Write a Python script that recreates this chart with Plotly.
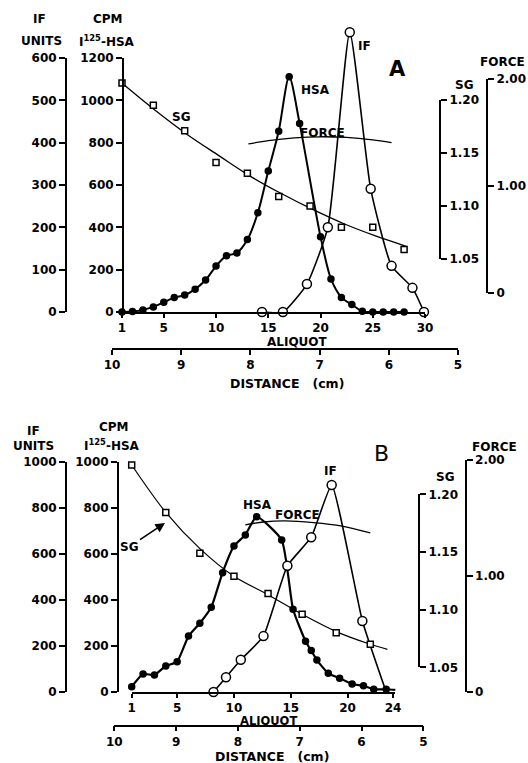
import plotly.graph_objects as go

W, H = 528, 763


def X(px):
    return px / W


def Y(py):
    return 1 - py / H


# ---------------- Panel A data ----------------
a_hsa_aliquot = [1, 2, 3, 4, 5, 6, 7, 8, 9, 10, 11, 12, 13, 14, 15, 16, 17, 18,
                 20, 21, 22, 23, 24, 25, 26, 27, 28]
a_hsa_cpm = [0, 2, 10, 24, 46, 68, 80, 108, 151, 217, 266, 279, 342, 469, 666, 854, 1111, 891,
             356, 156, 69, 35, 3, 0, 0, 0, 0]

a_if_aliquot = [14.4, 16.4, 18.7, 20.7, 22.8, 24.8, 26.8, 28.8, 29.9]
a_if_units = [0, 0, 66, 200, 661, 291, 109, 57, 0]

a_sg_aliquot = [1, 4, 7, 10, 13, 16, 19, 22, 25, 28]
a_sg_value = [1.216, 1.195, 1.171, 1.141, 1.131, 1.109, 1.100, 1.080, 1.080, 1.059]

a_sgfit_aliquot = [1.1, 4.2, 7.3, 10.2, 13.3, 16.2, 19.2, 22.3, 25.2, 28.2]
a_sgfit_value = [1.215, 1.190, 1.167, 1.148, 1.128, 1.112, 1.097, 1.083, 1.072, 1.062]

a_force_aliquot = [13.1, 15, 17.5, 20, 22.5, 25, 26.8]
a_force_value = [1.393, 1.424, 1.450, 1.460, 1.454, 1.431, 1.405]

# ---------------- Panel B data ----------------
b_hsa_aliquot = [1, 2, 3, 4, 5, 6, 7, 8, 9, 10, 11, 12, 14.2, 15.2, 16.3, 16.8, 17.3, 18.3,
                 19.3, 20.4, 21.4, 22.3, 23.4, 24.3]
b_hsa_cpm = [23, 78, 74, 113, 132, 243, 299, 368, 519, 635, 683, 762, 661, 360, 221, 180, 139, 81,
             60, 35, 27, 12, 12, 9]

b_if_aliquot = [8.2, 9.3, 10.6, 12.6, 14.7, 16.8, 18.6, 21.3, 23.4]
b_if_units = [0, 64, 140, 243, 549, 673, 900, 309, 0]

b_sg_aliquot = [1, 4, 7, 10, 13, 16, 19, 22]
b_sg_value = [1.2255, 1.1844, 1.149, 1.129, 1.114, 1.096, 1.080, 1.070]

b_sgfit_aliquot = [1, 4, 7, 10, 13, 16, 19, 22, 23.5]
b_sgfit_value = [1.2255, 1.1844, 1.153, 1.129, 1.113, 1.096, 1.081, 1.070, 1.0656]

b_force_aliquot = [11, 12.6, 14.5, 17, 19.5, 22]
b_force_value = [1.44, 1.465, 1.474, 1.46, 1.43, 1.371]

# tick labels
a_aliquot_ticks = [1, 5, 10, 15, 20, 25, 30]
b_aliquot_ticks = [1, 5, 10, 15, 20, 24]
distance_ticks = [10, 9, 8, 7, 6, 5]
sg_ticks = [1.05, 1.10, 1.15, 1.20]
sg_labels = ["1.05", "1.10", "1.15", "1.20"]
force_ticks = [0, 1, 2]
force_labels = ["0", "1.00", "2.00"]

FONT = "DejaVu Sans"
TICKFONT = dict(family=FONT, size=12, color="black", weight="bold")

fig = go.Figure()


def line_trace(x, y, xa, ya, width=1.4, smoothing=0.9):
    return go.Scatter(x=x, y=y, xaxis=xa, yaxis=ya, mode="lines",
                      line=dict(color="black", width=width, shape="spline", smoothing=smoothing),
                      hoverinfo="skip", showlegend=False)


def marker_trace(x, y, xa, ya, symbol, size, fill):
    return go.Scatter(x=x, y=y, xaxis=xa, yaxis=ya, mode="markers",
                      marker=dict(symbol=symbol, size=size, color=fill, opacity=1,
                                  line=dict(color="black", width=1.5)),
                      cliponaxis=False, hoverinfo="skip", showlegend=False)


def empty(xa, ya):
    return go.Scatter(x=[], y=[], xaxis=xa, yaxis=ya, mode="markers",
                      hoverinfo="skip", showlegend=False)


# ----- Panel A traces -----
fig.add_trace(line_trace(a_hsa_aliquot, a_hsa_cpm, "x", "y", 2, 0.8))
fig.add_trace(marker_trace(a_hsa_aliquot, a_hsa_cpm, "x", "y", "circle", 6, "black"))
fig.add_trace(line_trace(a_if_aliquot, a_if_units, "x", "y2", 1.6, 0.5))
fig.add_trace(marker_trace(a_if_aliquot, a_if_units, "x", "y2", "circle", 9, "white"))
fig.add_trace(line_trace(a_sgfit_aliquot, a_sgfit_value, "x", "y3", 1.3))
fig.add_trace(marker_trace(a_sg_aliquot, a_sg_value, "x", "y3", "square", 6, "white"))
fig.add_trace(line_trace(a_force_aliquot, a_force_value, "x", "y4", 1.3))
fig.add_trace(empty("x", "y5"))
fig.add_trace(empty("x", "y11"))
fig.add_trace(empty("x", "y12"))
fig.add_trace(empty("x2", "y11"))

# ----- Panel B traces -----
fig.add_trace(line_trace(b_hsa_aliquot, b_hsa_cpm, "x3", "y6", 2.2, 0.5))
fig.add_trace(marker_trace(b_hsa_aliquot[:-1], b_hsa_cpm[:-1], "x3", "y6", "circle", 6, "black"))
fig.add_trace(marker_trace(b_hsa_aliquot[-1:], b_hsa_cpm[-1:], "x3", "y6", "circle", 10, "black"))
fig.add_trace(line_trace(b_if_aliquot, b_if_units, "x3", "y7", 1.6, 0.4))
fig.add_trace(marker_trace(b_if_aliquot[:-1], b_if_units[:-1], "x3", "y7", "circle", 9, "white"))
fig.add_trace(line_trace(b_sgfit_aliquot, b_sgfit_value, "x3", "y8", 1.2))
fig.add_trace(marker_trace(b_sg_aliquot, b_sg_value, "x3", "y8", "square", 6, "white"))
fig.add_trace(line_trace(b_force_aliquot, b_force_value, "x3", "y9", 1.3))
fig.add_trace(empty("x3", "y10"))
fig.add_trace(empty("x4", "y6"))


def axis(**kw):
    base = dict(showline=True, linecolor="black", linewidth=2, ticks="outside", tickcolor="black",
                tickwidth=2, ticklen=6, showgrid=False, zeroline=False, tickfont=TICKFONT,
                fixedrange=True, autorange=False, automargin=False)
    base.update(kw)
    return base


def hidden(**kw):
    base = dict(visible=False, autorange=False, fixedrange=True, showgrid=False, zeroline=False,
                automargin=False)
    base.update(kw)
    return base


# pixel scales of the scanned axes
A_CPM_PX = (312 - 58) / 1200.0
A_IF_PX = (312 - 58) / 600.0
A_SG_PX = (259 - 100) / 0.15
A_TOP = 20

layout_axes = dict(
    # Panel A : hidden data axes with head-room above the printed scales
    yaxis=hidden(domain=[Y(312), Y(A_TOP)], range=[0, (312 - A_TOP) / A_CPM_PX]),
    yaxis2=hidden(overlaying="y", range=[0, (312 - A_TOP) / A_IF_PX]),
    yaxis3=hidden(overlaying="y", range=[1.05 - (312 - 259) / A_SG_PX, 1.05 + (259 - A_TOP) / A_SG_PX]),
    # Panel A : printed scales
    xaxis=axis(domain=[X(122), X(425)], range=[1, 30], anchor="y11", tickvals=a_aliquot_ticks,
               ticklen=4),
    yaxis11=axis(domain=[Y(312), Y(58)], range=[0, 1200], anchor="free", position=X(123),
                 tickvals=list(range(0, 1201, 200))),
    yaxis12=axis(domain=[Y(312), Y(58)], range=[0, 600], anchor="free", position=X(66), side="left",
                 tickvals=list(range(0, 601, 100))),
    yaxis4=axis(domain=[Y(293), Y(79)], range=[0, 2], anchor="free", position=X(487), side="right",
                tickvals=force_ticks, ticktext=force_labels),
    yaxis5=axis(domain=[Y(259), Y(100)], range=[1.05, 1.20], anchor="free", position=X(440),
                side="right", tickvals=sg_ticks, ticktext=sg_labels),
    xaxis2=axis(domain=[X(112), X(458)], range=[10, 5], anchor="free", position=Y(349),
                tickvals=distance_ticks, linewidth=1.5, ticklen=5),
    # Panel B
    xaxis3=axis(domain=[X(131.7), X(395.3)], range=[1, 24.2], anchor="y6", tickvals=b_aliquot_ticks,
                ticklen=4),
    yaxis6=axis(domain=[Y(692), Y(462)], range=[0, 1000], anchor="free", position=X(118),
                tickvals=list(range(0, 1001, 200))),
    yaxis7=axis(overlaying="y6", range=[0, 1000], anchor="free", position=X(66), side="left",
                tickvals=list(range(0, 1001, 200))),
    yaxis8=hidden(overlaying="y6", range=[1.0286, 1.2281]),
    yaxis9=axis(domain=[Y(691.7), Y(460)], range=[0, 2], anchor="free", position=X(465.7),
                side="right", tickvals=force_ticks, ticktext=force_labels),
    yaxis10=axis(domain=[Y(667.3), Y(494.3)], range=[1.05, 1.20], anchor="free", position=X(419),
                 side="right", tickvals=sg_ticks, ticktext=sg_labels),
    xaxis4=axis(domain=[X(114.3), X(423.3)], range=[10, 5], anchor="free", position=Y(725.7),
                tickvals=distance_ticks, linewidth=1.5, ticklen=5),
)


def txt(s, x, y, size=12, xanchor="center", weight="bold"):
    return dict(text=s, x=X(x), y=Y(y), xref="paper", yref="paper", showarrow=False,
                xanchor=xanchor, yanchor="middle",
                font=dict(family=FONT, size=size, color="black", weight=weight))


annotations = [
    # Panel A
    txt("IF", 39, 19), txt("CPM", 108, 19), txt("UNITS", 41, 41), txt("I<sup>125</sup>-HSA", 107, 41),
    txt("SG", 464, 85), txt("FORCE", 527, 62, xanchor="right"),
    txt("SG", 181, 117), txt("HSA", 315, 90), txt("FORCE", 322, 133), txt("IF", 364, 46),
    txt("A", 397, 69, size=21),
    txt("ALIQUOT", 297, 342), txt("DISTANCE   (cm)", 287, 383, size=12.5),
    # Panel B
    txt("IF", 33, 431), txt("UNITS", 33, 446), txt("CPM", 114, 427), txt("I<sup>125</sup>-HSA", 112, 445),
    txt("SG", 445, 477), txt("FORCE", 494, 447),
    txt("HSA", 257, 505), txt("FORCE", 297, 515), txt("IF", 330, 471),
    txt("B", 381, 453, size=22, weight="normal"),
    txt("ALIQUOT", 268, 721, size=11.5), txt("DISTANCE   (cm)", 272, 756, size=12.5),
    dict(text="SG", x=X(165), y=Y(523), xref="paper", yref="paper", showarrow=True,
         ax=-36, ay=24, axref="pixel", ayref="pixel", arrowhead=2, arrowsize=1.2, arrowwidth=1.6,
         arrowcolor="black", font=dict(family=FONT, size=12, color="black", weight="bold")),
]

fig.update_layout(
    width=W, height=H, autosize=False,
    margin=dict(l=0, r=0, t=0, b=0, pad=0, autoexpand=False),
    paper_bgcolor="white", plot_bgcolor="rgba(0,0,0,0)",
    showlegend=False,
    annotations=annotations,
    **layout_axes,
)

post = ("document.body.style.margin='0';document.body.style.padding='0';"
        "document.documentElement.style.overflow='hidden';"
        "var gd=document.getElementById('{plot_id}');"
        "Plotly.relayout(gd,{width:528,height:763});")

fig.write_html("out.html", config={"displayModeBar": False}, post_script=post)
